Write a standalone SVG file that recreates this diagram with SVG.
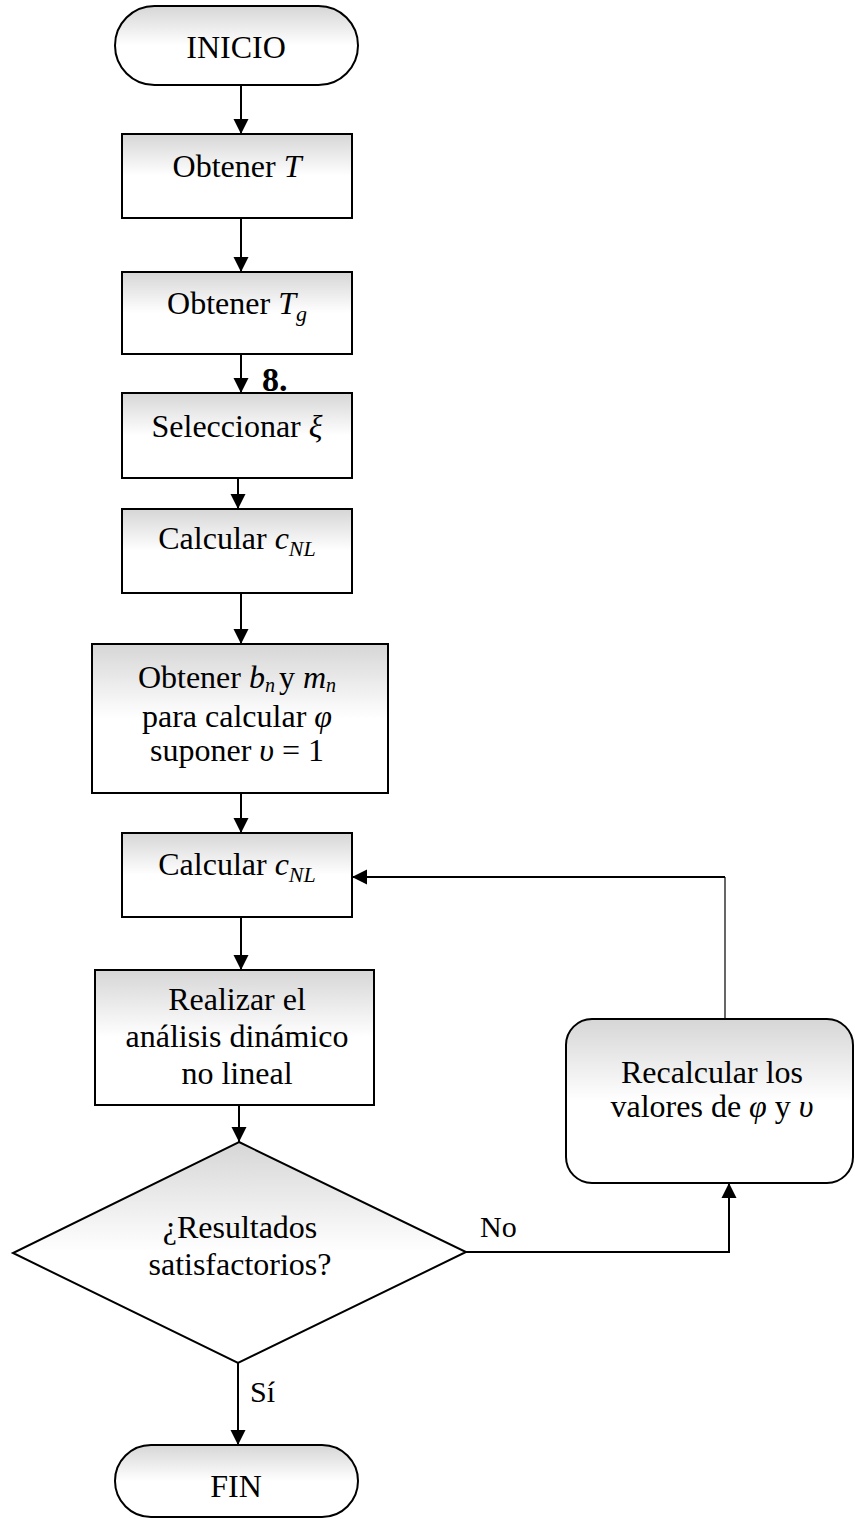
<svg xmlns="http://www.w3.org/2000/svg" width="855" height="1519" viewBox="0 0 855 1519">
<style>
  .box { stroke: #000; stroke-width: 2; fill: url(#g); }
  .t { font-family: "Liberation Serif", "Times New Roman", serif; font-size: 32px; fill: #000; text-anchor: middle; }
  .m { font-style: italic; }
  .s { font-size: 22px; font-style: italic; }
  .s2 { font-size: 20px; font-style: italic; }
  .lbl { font-family: "Liberation Serif", "Times New Roman", serif; font-size: 30px; fill: #000; }
  .c { stroke: #000; stroke-width: 2; fill: none; }
  .thin { stroke: #000; stroke-width: 1.2; fill: none; }
</style>
<defs>
  <linearGradient id="g" x1="0" y1="0" x2="0" y2="1">
    <stop offset="0" stop-color="#d6d6d6"/>
    <stop offset="0.5" stop-color="#ffffff"/>
    <stop offset="1" stop-color="#ffffff"/>
  </linearGradient>
  <marker id="ah" markerUnits="userSpaceOnUse" markerWidth="16" markerHeight="16" viewBox="0 0 16 16" refX="15" refY="8" orient="auto">
    <path d="M0,0.5 L15,8 L0,15.5 Z" fill="#000"/>
  </marker>
</defs>
<rect width="855" height="1519" fill="#fff"/>

<g id="connectors">
  <line class="c" x1="241" y1="85" x2="241" y2="134" marker-end="url(#ah)"/>
  <line class="c" x1="241" y1="218" x2="241" y2="272" marker-end="url(#ah)"/>
  <line class="c" x1="241" y1="354" x2="241" y2="393" marker-end="url(#ah)"/>
  <line class="c" x1="238" y1="478" x2="238" y2="509" marker-end="url(#ah)"/>
  <line class="c" x1="241" y1="593" x2="241" y2="644" marker-end="url(#ah)"/>
  <line class="c" x1="241" y1="793" x2="241" y2="833" marker-end="url(#ah)"/>
  <line class="c" x1="241" y1="917" x2="241" y2="970" marker-end="url(#ah)"/>
  <line class="c" x1="239" y1="1105" x2="239" y2="1142" marker-end="url(#ah)"/>
  <line class="c" x1="238" y1="1363" x2="238" y2="1445" marker-end="url(#ah)"/>
  <polyline class="c" points="466,1252 729,1252 729,1183" marker-end="url(#ah)"/>
  <line class="thin" x1="725" y1="1019" x2="725" y2="877"/>
  <line class="c" x1="725" y1="877" x2="352" y2="877" marker-end="url(#ah)"/>
  <text class="lbl" x="480" y="1237">No</text>
  <text class="lbl" x="250" y="1402">Sí</text>
  <text class="lbl" x="262" y="391" style="font-weight:bold;font-size:34px">8.</text>
</g>

<g id="inicio">
  <rect class="box" x="115" y="6" width="243" height="79" rx="39.5"/>
  <text class="t" x="236" y="58">INICIO</text>
</g>

<g id="obtenerT">
  <rect class="box" x="122" y="134" width="230" height="84"/>
  <text class="t" x="237" y="177">Obtener <tspan class="m">T</tspan></text>
</g>

<g id="obtenerTg">
  <rect class="box" x="122" y="272" width="230" height="82"/>
  <text class="t" x="237" y="314">Obtener <tspan class="m">T</tspan><tspan class="s" dy="7">g</tspan></text>
</g>

<g id="seleccionar">
  <rect class="box" x="122" y="393" width="230" height="85"/>
  <text class="t" x="237" y="437">Seleccionar <tspan class="m">ξ</tspan></text>
</g>

<g id="calcular1">
  <rect class="box" x="122" y="509" width="230" height="84"/>
  <text class="t" x="237" y="549">Calcular <tspan class="m">c</tspan><tspan class="s" dy="7">NL</tspan></text>
</g>

<g id="obtenerBn">
  <rect class="box" x="92" y="644" width="296" height="149"/>
  <text class="t" x="237" y="688">Obtener <tspan class="m">b</tspan><tspan class="s2" dy="4">n</tspan><tspan dx="4" dy="-4">y </tspan><tspan class="m">m</tspan><tspan class="s2" dy="4">n</tspan></text>
  <text class="t" x="237" y="727">para calcular <tspan class="m">φ</tspan></text>
  <text class="t" x="237" y="761">suponer <tspan class="m">υ</tspan> = 1</text>
</g>

<g id="calcular2">
  <rect class="box" x="122" y="833" width="230" height="84"/>
  <text class="t" x="237" y="875">Calcular <tspan class="m">c</tspan><tspan class="s" dy="7">NL</tspan></text>
</g>

<g id="realizar">
  <rect class="box" x="95" y="970" width="279" height="135"/>
  <text class="t" x="237" y="1010">Realizar el</text>
  <text class="t" x="237" y="1047">análisis dinámico</text>
  <text class="t" x="237" y="1084">no lineal</text>
</g>

<g id="decision">
  <polygon class="box" points="239,1142 466,1252 238,1363 13,1253"/>
  <text class="t" x="240" y="1238">¿Resultados</text>
  <text class="t" x="240" y="1275">satisfactorios?</text>
</g>

<g id="recalcular">
  <rect class="box" x="566" y="1019" width="287" height="164" rx="26"/>
  <text class="t" x="712" y="1083">Recalcular los</text>
  <text class="t" x="712" y="1117">valores de <tspan class="m">φ</tspan> y <tspan class="m">υ</tspan></text>
</g>

<g id="fin">
  <rect class="box" x="115" y="1445" width="243" height="72" rx="36"/>
  <text class="t" x="236" y="1497">FIN</text>
</g>
</svg>
